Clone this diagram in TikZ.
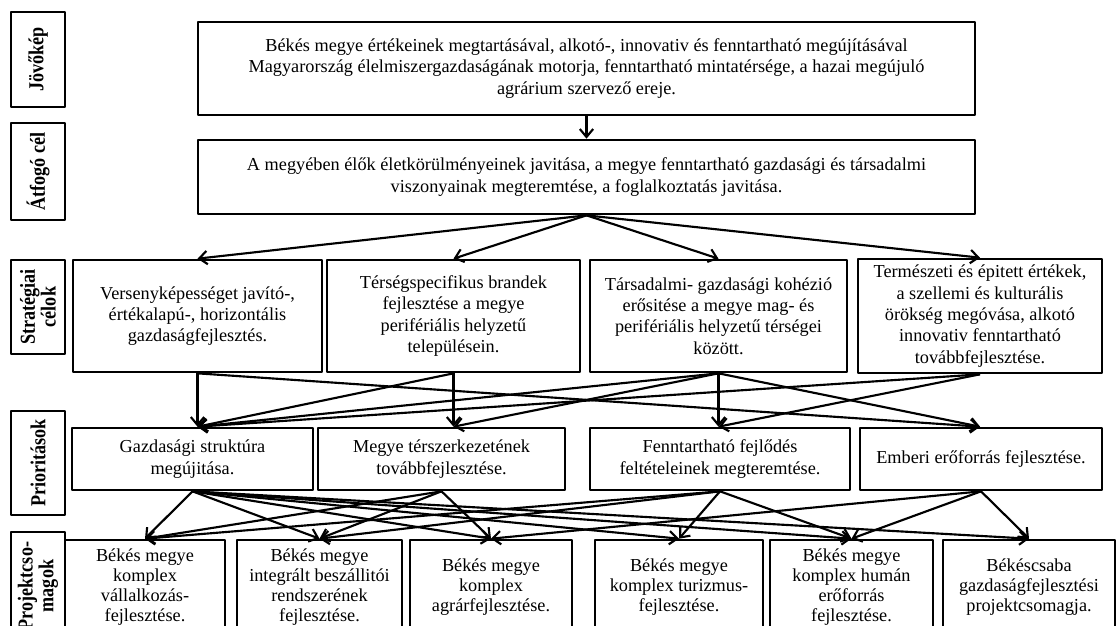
\documentclass[tikz,border=0pt]{standalone}
\usepackage{fontspec}
\setmainfont{Liberation Serif}
\usetikzlibrary{arrows.meta}
\begin{document}
\begin{tikzpicture}[x=0.75pt,y=-0.75pt,line join=round,>={Straight Barb[length=6pt,width=10pt]},font=\fontsize{13.7}{16}\selectfont]
	\tikzset{box/.style 2 args={draw,line width=2pt,align=center,inner sep=0pt,minimum width=#1*0.75pt,minimum height=#2*0.75pt},
		lab/.style 2 args={box={#1}{#2},rotate=90,font=\fontsize{16}{13}\bfseries\selectfont},
		proj/.style 2 args={box={#1}{#2},font=\fontsize{13.7}{15}\selectfont},
		arr/.style={->,line width=1.6pt}}
	\useasboundingbox (0,0) rectangle (1120,625);
	\clip (0,0) rectangle (1120,625);
	% szintek cimkei
	\node[lab={95}{54}] (L1) at (38,59.5) {\scalebox{0.85}[1]{Jövőkép}};
	\node[lab={97}{54}] (L2) at (38,171.5) {\scalebox{0.85}[1]{Átfogó cél}};
	\node[lab={94}{54}] (L3) at (38,307) {\scalebox{0.85}[1]{Stratégiai}\\ \scalebox{0.85}[1]{célok}};
	\node[lab={104}{54}] (L4) at (38,463) {\scalebox{0.85}[1]{Prioritások}};
	\node[lab={108}{54}] (L5) at (38,586) {\scalebox{0.85}[1]{Projektcso-}\\ \scalebox{0.85}[1]{magok}};
	% jovokep es atfogo cel
	\node[box={777}{93}] (V) at (586.5,68.5) {Békés megye értékeinek megtartásával, alkotó-, innovativ és fenntartható megújításával\\ Magyarország élelmiszergazdaságának motorja, fenntartható mintatérsége, a hazai megújuló\\ agrárium szervező ereje.};
	\node[box={777}{74}] (G) at (586.5,177) {A megyében élők életkörülményeinek javitása, a megye fenntartható gazdasági és társadalmi\\ viszonyainak megteremtése, a foglalkoztatás javitása.};
	% strategiai celok
	\node[box={249}{112}] (S1) at (197.5,316) {Versenyképességet javító-,\\ értékalapú-, horizontális\\ gazdaságfejlesztés.};
	\node[box={253}{112}] (S2) at (453.5,316) {Térségspecifikus brandek\\ fejlesztése a megye\\ perifériális helyzetű\\ településein.};
	\node[box={257}{112}] (S3) at (718.5,316) {Társadalmi- gazdasági kohézió\\ erősitése a megye mag- és\\ perifériális helyzetű térségei\\ között.};
	\node[box={244}{114}] (S4) at (980,316) {Természeti és épitett értékek,\\ a szellemi és kulturális\\ örökség megóvása, alkotó\\ innovativ fenntartható\\ továbbfejlesztése.};
	% prioritasok
	\node[box={241}{62}] (P1) at (192.5,459) {Gazdasági struktúra\\ megújitása.};
	\node[box={247}{62}] (P2) at (441.5,459) {Megye térszerkezetének\\ továbbfejlesztése.};
	\node[box={260}{62}] (P3) at (720,459) {Fenntartható fejlődés\\ feltételeinek megteremtése.};
	\node[box={242}{62}] (P4) at (981,459) {Emberi erőforrás fejlesztése.};
	% projektcsomagok
	\node[proj={160}{95}] (J1) at (145,587.5) {Békés megye\\ komplex\\ vállalkozás-\\ fejlesztése.};
	\node[proj={165}{95}] (J2) at (319.5,587.5) {Békés megye\\ integrált beszállitói\\ rendszerének\\ fejlesztése.};
	\node[proj={162}{95}] (J3) at (491,587.5) {Békés megye\\ komplex\\ agrárfejlesztése.};
	\node[proj={168}{95}] (J4) at (679,587.5) {Békés megye\\ komplex turizmus-\\ fejlesztése.};
	\node[proj={163}{95}] (J5) at (851.5,587.5) {Békés megye\\ komplex humán\\ erőforrás\\ fejlesztése.};
	\node[proj={172}{95}] (J6) at (1029,587.5) {Békéscsaba\\ gazdaságfejlesztési\\ projektcsomagja.};
	% nyilak
	\draw[arr] (V) -- (G);
	\foreach \t in {1,...,4}
	\draw[arr] (G.south) -- (S\t.north);
	\foreach \s/\t in {1/1,1/4,2/1,2/2,3/1,3/2,3/3,3/4,4/1,4/3}
	\draw[arr] (S\s.south) -- (S\t.south |- P\t.north);
	\foreach \s/\t in {1/1,1/2,1/3,1/4,1/5,1/6,2/1,2/2,2/3,3/1,3/2,3/4,3/5,4/3,4/5,4/6}
	\draw[arr] (P\s.south) -- (J\t.north);
\end{tikzpicture}
\end{document}
